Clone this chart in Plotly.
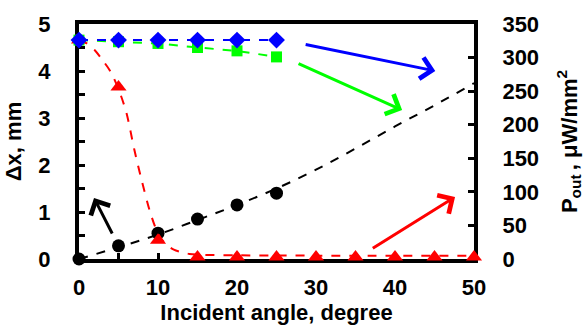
import plotly.graph_objects as go

# ---- data ----
angle = [0, 5, 10, 15, 20, 25]
dx_mm = [0.0, 0.28, 0.55, 0.85, 1.15, 1.40]

fit_dx_angle = [0, 5, 10, 15, 20, 25, 30, 35, 40, 45, 50]
fit_dx_vals = [0.0, 0.25, 0.52, 0.83, 1.15, 1.50, 1.90, 2.35, 2.82, 3.27, 3.74]

p_blue = [326, 326, 326, 326, 326, 326]
p_green = [326, 323.6, 321, 315, 310, 301]

red_angle = [0, 5, 10, 15, 20, 25, 30, 35, 40, 45, 50]
p_red = [326, 256, 28, 3, 3, 3, 3, 3, 3, 3, 3]

fit_red_angle = [0, 1, 2, 3, 4, 5, 6, 7, 8, 9, 10, 11, 12, 13, 14, 15, 20, 30, 40, 50]
fit_red_vals = [326, 321, 311, 296, 279, 253, 218, 163, 114, 70, 38, 22, 14, 10, 7.5, 6.5, 5.5, 5, 5, 5]

x_ticks = [0, 10, 20, 30, 40, 50]

FONT = "Arial, Liberation Sans, sans-serif"

fig = go.Figure()

# black fit (left axis)
fig.add_trace(go.Scatter(x=fit_dx_angle, y=fit_dx_vals, mode="lines",
                         line=dict(color="black", width=2, dash="dash", shape="spline"),
                         yaxis="y", showlegend=False, hoverinfo="skip"))

# red fit + markers (right axis)
fig.add_trace(go.Scatter(x=fit_red_angle, y=fit_red_vals, mode="lines",
                         line=dict(color="#FF0000", width=2, dash="dash", shape="spline", smoothing=0.8),
                         yaxis="y2", showlegend=False, hoverinfo="skip"))
fig.add_trace(go.Scatter(x=red_angle, y=p_red, mode="markers",
                         marker=dict(symbol="triangle-up", size=14, color="#FF0000"),
                         yaxis="y2", showlegend=False, cliponaxis=False))

# green
fig.add_trace(go.Scatter(x=angle, y=p_green, mode="lines+markers",
                         line=dict(color="#00FF00", width=2, dash="dash"),
                         marker=dict(symbol="square", size=11, color="#00FF00"),
                         yaxis="y2", showlegend=False, cliponaxis=False))
# blue
fig.add_trace(go.Scatter(x=angle, y=p_blue, mode="lines+markers",
                         line=dict(color="#0000FF", width=2, dash="dash"),
                         marker=dict(symbol="diamond", size=13, color="#0000FF"),
                         yaxis="y2", showlegend=False, cliponaxis=False))

# black markers
fig.add_trace(go.Scatter(x=angle, y=dx_mm, mode="markers",
                         marker=dict(symbol="circle", size=13, color="black"),
                         yaxis="y", showlegend=False, cliponaxis=False))

tickfont = dict(family=FONT, size=22, color="black", weight="bold")
titlefont = dict(family=FONT, size=22, color="black", weight="bold")

fig.update_layout(
    width=586, height=328,
    margin=dict(l=79, r=112, t=24, b=69),
    paper_bgcolor="white", plot_bgcolor="white",
    xaxis=dict(range=[0, 50], tickvals=x_ticks, ticks="inside", ticklen=6, tickwidth=3,
               tickcolor="black", showline=True, linecolor="black", linewidth=4, mirror=True,
               showgrid=False, zeroline=False, tickfont=tickfont, ticklabelstandoff=6,
               layer="below traces",
               minor=dict(dtick=5, ticks="inside", ticklen=6, tickwidth=3, tickcolor="black"),
               title=dict(text="Incident angle, degree", font=titlefont, standoff=0),
               automargin=False),
    yaxis=dict(range=[0, 5], dtick=1, ticks="inside", ticklen=6, tickwidth=3, tickcolor="black",
               showline=True, linecolor="black", linewidth=4, showgrid=False, zeroline=False,
               tickfont=tickfont, ticklabelstandoff=20, layer="below traces",
               minor=dict(dtick=0.5, ticks="inside", ticklen=6, tickwidth=3, tickcolor="black"),
               title=dict(text="Δx, mm", font=titlefont, standoff=12), automargin=False),
    yaxis2=dict(range=[0, 350], dtick=50, overlaying="y", side="right", ticks="inside",
                ticklen=6, tickwidth=3, tickcolor="black", showline=True, linecolor="black",
                linewidth=4, showgrid=False, zeroline=False, tickfont=tickfont, ticklabelstandoff=20,
                layer="below traces",
                title=dict(text="P<sub>out </sub>, μW/mm<sup>2</sup>", font=titlefont, standoff=24),
                automargin=False),
)

arrows = [
    # (tail_x, tail_y, head_x, head_y, color)
    (28.5, 4.57, 45.1, 4.00, "#0000FF"),
    (27.6, 4.17, 40.9, 3.17, "#00FF00"),
    (37.0, 0.21, 47.6, 1.32, "#FF0000"),
    (4.3, 0.51, 1.9, 1.30, "black"),
]
for tx, ty, hx, hy, c in arrows:
    fig.add_annotation(x=hx, y=hy, ax=tx, ay=ty, xref="x", yref="y", axref="x", ayref="y",
                       text="", showarrow=True, arrowhead=4, arrowsize=1.4, arrowwidth=3,
                       arrowcolor=c, standoff=0)

fig.write_html("out.html")
